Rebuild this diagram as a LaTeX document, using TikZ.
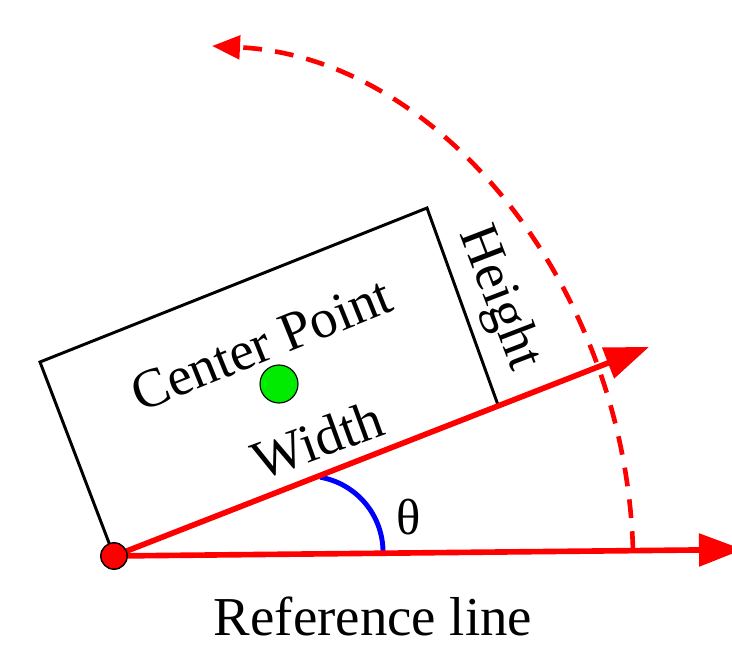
\documentclass[tikz,border=0pt]{standalone}
\usepackage{fontspec}
\setmainfont{Liberation Serif}
\usetikzlibrary{arrows.meta}
\definecolor{myred}{RGB}{255,0,0}
\definecolor{mygreen}{RGB}{0,235,0}
\definecolor{myblue}{RGB}{0,0,255}
\begin{document}
\begin{tikzpicture}[x=0.025cm,y=0.025cm,
  lbl/.style={font=\fontsize{39}{47}\selectfont, inner sep=0pt},
  rectline/.style={draw=black, line width=2.1pt, line join=miter},
  redline/.style={draw=myred, line width=4pt},
  bigtip/.style={-{Triangle[length=1.1cm,width=0.8cm]}},
  dashedarc/.style={draw=myred, line width=3.3pt, dash pattern=on 0.47cm off 0.33cm, -{Triangle[length=0.7cm,width=0.58cm]}},
  bluearc/.style={draw=myblue, line width=3.5pt},
  dotnode/.style={circle, draw=black, line width=1pt, inner sep=0pt}]
\useasboundingbox (0,0) rectangle (732,647);
% key points
\coordinate (O) at (114,91);
\coordinate (BR) at (498,242);
\coordinate (TR) at (427,439);
\coordinate (TL) at (40,285);
\coordinate (WT) at (649,300);
\coordinate (RT) at (743,97.5);
\coordinate (DS) at (633,97);
\coordinate (DT) at (212,601);
\coordinate (AS) at (320.2,169.8);
% rectangle
\draw[rectline] (O) -- (TL) -- (TR) -- (BR);
% blue angle arc
\draw[bluearc] (AS) arc[start angle=80, end angle=0, radius=1.9cm];
% dashed rotation arc
\draw[dashedarc] (DS) .. controls (625,360) and (440,590) .. (DT);
% red lines
\draw[redline, bigtip] (O) -- (RT);
\draw[redline, bigtip] (O) -- (WT);
% dots
\node[dotnode, fill=myred, minimum size=0.66cm] (dot) at (O) {};
\node[dotnode, fill=mygreen, line width=0.8pt, minimum size=0.95cm] (cp) at (279,263) {};
% labels
\node[lbl, anchor=base, rotate=22] (center) at (268,286) {Center Point};
\node[lbl, anchor=base, rotate=20] (width) at (324,190) {Width};
\node[lbl, anchor=base, rotate=-69] (height) at (486,344) {Height};
\node[lbl, font=\fontsize{36}{43}\selectfont] (theta) at (409,130) {θ};
\node[lbl, anchor=base] (ref) at (373,12) {Reference line};
\end{tikzpicture}
\end{document}
